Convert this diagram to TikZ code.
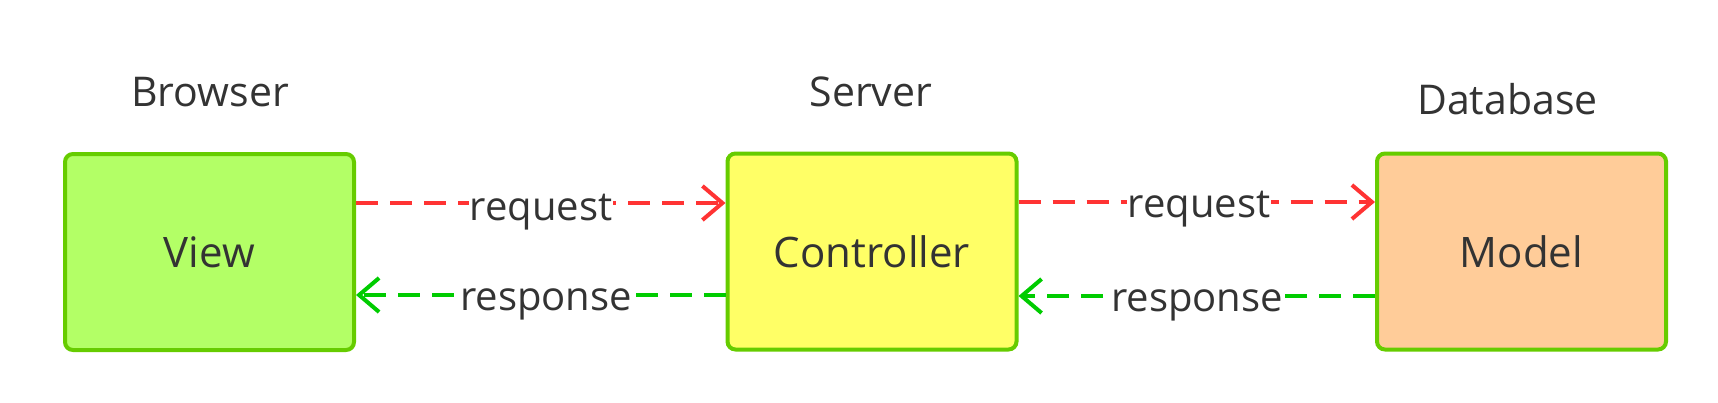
\documentclass[tikz,border=0pt]{standalone}
\usepackage{fontspec}
\setmainfont{Open Sans}
\usetikzlibrary{arrows.meta,calc}
\definecolor{txt}{HTML}{333333}
\definecolor{bord}{HTML}{66CC00}
\definecolor{viewfill}{HTML}{B3FF66}
\definecolor{ctrlfill}{HTML}{FFFF66}
\definecolor{modelfill}{HTML}{FFCC99}
\definecolor{reqcol}{HTML}{FF3333}
\definecolor{rescol}{HTML}{00CC00}
\tikzset{
  box/.style={draw=bord, line width=4pt, rounded corners=8pt, minimum width=289pt, minimum height=196pt, inner sep=0pt, text=txt, font=\fontsize{42}{50}\selectfont},
  header/.style={text=txt, anchor=base, inner sep=0pt, font=\fontsize{41}{49}\selectfont},
  lbl/.style={text=txt, anchor=base, fill=white, inner sep=1pt, font=\fontsize{40}{48}\selectfont},
  conn/.style={line width=4pt, dash pattern=on 22pt off 12pt, -{Straight Barb[length=20pt,width=34pt,line width=4pt]}},
  reqline/.style={conn, draw=reqcol},
  resline/.style={conn, draw=rescol},
}
\begin{document}
\begin{tikzpicture}[x=1pt,y=1pt]
\useasboundingbox (0,0) rectangle (1718,-402);
\node[box, fill=viewfill] (view) at (209.5,-252) {View};
\node[box, fill=ctrlfill] (ctrl) at (872,-251.5) {Controller};
\node[box, fill=modelfill] (model) at (1521.5,-251.5) {Model};
\node[header] (browser) at (210,-106) {Browser};
\node[header] (server) at (871,-106) {Server};
\node[header] (database) at (1507.5,-114) {Database};
% view -> controller
\coordinate (r1s) at ($(view.east)!0!(view.east)+(0,49)$);
\draw[reqline] (view.east |- 0,-203) -- (ctrl.west |- 0,-203);
\draw[resline] (ctrl.west |- 0,-295) -- (view.east |- 0,-295);
\draw[reqline] (ctrl.east |- 0,-202) -- (model.west |- 0,-202);
\draw[resline] (model.west |- 0,-296) -- (ctrl.east |- 0,-296);
\node[lbl] (req1) at (541,-220) {request};
\node[lbl] (res1) at (546,-310) {response};
\node[lbl] (req2) at (1199,-217) {request};
\node[lbl] (res2) at (1197,-311) {response};
\end{tikzpicture}
\end{document}
